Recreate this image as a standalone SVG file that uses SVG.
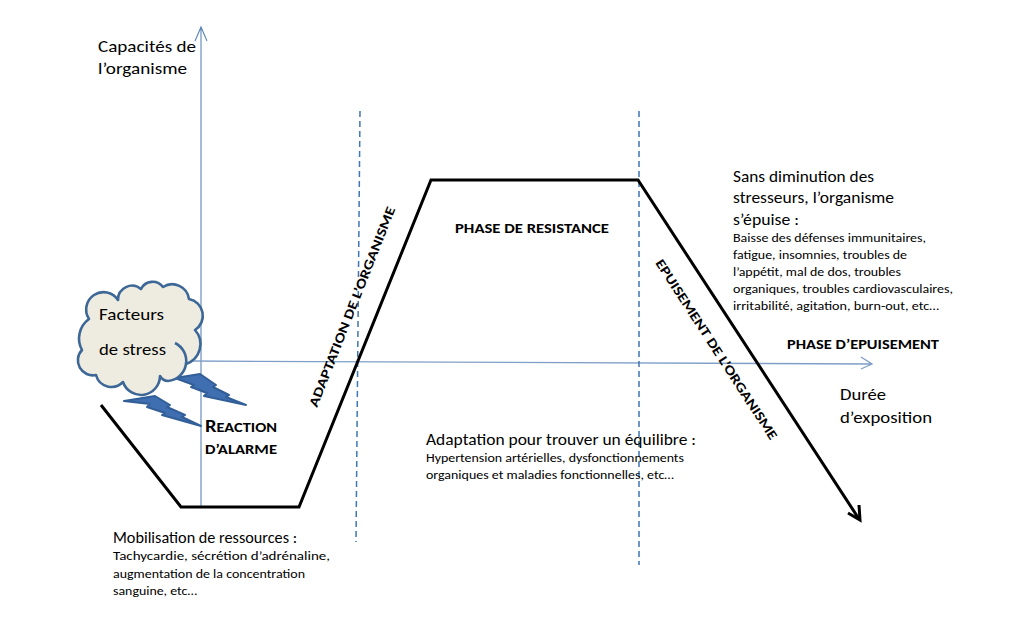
<svg xmlns="http://www.w3.org/2000/svg" width="1013" height="626" viewBox="0 0 1013 626">
<style>
text{font-family:"Carlito","Lato","Liberation Sans",sans-serif;fill:#000}
.l{font-size:17px}
.s{font-size:12.5px}
.b{font-size:13.5px;font-weight:700}
.axis{fill:none;stroke:#5b86b8;stroke-width:1.1}
.axis2{fill:none;stroke:#7f9fc8;stroke-width:1.3}
.dash{fill:none;stroke:#3f76b5;stroke-width:1.5;stroke-dasharray:6 4}
.curve{fill:none;stroke:#000;stroke-width:3}
.bolt{fill:#3f6fb0;stroke:#335f98;stroke-width:2;stroke-linejoin:round}
.cloud{fill:#eeece1;stroke:#3d6796;stroke-width:2.6;stroke-linejoin:round}
.hook{fill:none;stroke:#3d6796;stroke-width:2.6}
</style>
<rect width="1013" height="626" fill="#fff"/>
<g id="connectors">
<path class="axis" d="M201 507V27M195 41L201 27L207 41"/>
<path class="axis2" d="M190 361L872 364M861 357L872 364L861 369"/>
<path class="dash" d="M360 111L356 542"/>
<path class="dash" d="M639 111V565"/>
<path class="curve" d="M101 405L181 507H299L431 180H638L859 519"/>
<path class="curve" d="M848 513L860 520L859 505"/>
</g>
<g id="bolts">
<polygon class="bolt" points="175,378 200,374 216,385 213,387 229,395 226,397 246,405 204,396 207,393 191,387 194,385"/>
<polygon class="bolt" points="124,401 155,396 170,405 167,407 185,415 182,417 201,426 162,415 165,413 147,407 150,404"/>
</g>
<g id="cloud">
<path class="cloud" d="M89 319A15 15 0 0 1 118 300A14 14 0 0 1 141 289A13 13 0 0 1 163 287A17 17 0 0 1 189 299A17 17 0 0 1 195 330A21 21 0 0 1 186 364A20 20 0 0 1 168 381Q163 381 160 376A19 19 0 0 1 123 382A16 16 0 0 1 96 375A15 15 0 0 1 82 350A24 24 0 0 1 89 319Z"/>
<path class="hook" d="M175 343A20 20 0 0 1 186 364"/>
<text class="l" x="99" y="320" textLength="65" lengthAdjust="spacingAndGlyphs">Facteurs</text>
<text class="l" x="99" y="355" textLength="67" lengthAdjust="spacingAndGlyphs">de stress</text>
</g>
<g id="labels">
<text class="l" x="98" y="52" textLength="98" lengthAdjust="spacingAndGlyphs">Capacités de</text>
<text class="l" x="98" y="74" textLength="89" lengthAdjust="spacingAndGlyphs">l’organisme</text>
<text class="b" x="205" y="432" textLength="72" lengthAdjust="spacingAndGlyphs"><tspan font-size="17">R</tspan>EACTION</text>
<text class="b" x="205" y="454" textLength="72" lengthAdjust="spacingAndGlyphs">D’ALARME</text>
<text class="b" transform="translate(317 408) rotate(-68.5)" textLength="214" lengthAdjust="spacingAndGlyphs">ADAPTATION DE L’ORGANISME</text>
<text class="b" x="455" y="233" textLength="154" lengthAdjust="spacingAndGlyphs">PHASE DE RESISTANCE</text>
<text class="b" transform="translate(655 263) rotate(57)" textLength="212" lengthAdjust="spacingAndGlyphs">EPUISEMENT DE L’ORGANISME</text>
<text class="b" x="787" y="349" textLength="152" lengthAdjust="spacingAndGlyphs">PHASE D’EPUISEMENT</text>
<text class="l" x="840" y="400" textLength="46" lengthAdjust="spacingAndGlyphs">Durée</text>
<text class="l" x="840" y="423" textLength="92" lengthAdjust="spacingAndGlyphs">d’exposition</text>
<text class="l" x="733" y="182" textLength="141" lengthAdjust="spacingAndGlyphs">Sans diminution des</text>
<text class="l" x="733" y="203" textLength="161" lengthAdjust="spacingAndGlyphs">stresseurs, l’organisme</text>
<text class="l" x="733" y="225" textLength="66" lengthAdjust="spacingAndGlyphs">s’épuise :</text>
<text class="s" x="733" y="242" textLength="193" lengthAdjust="spacingAndGlyphs">Baisse des défenses immunitaires,</text>
<text class="s" x="733" y="259" textLength="174" lengthAdjust="spacingAndGlyphs">fatigue, insomnies, troubles de</text>
<text class="s" x="733" y="276" textLength="168" lengthAdjust="spacingAndGlyphs">l’appétit, mal de dos, troubles</text>
<text class="s" x="733" y="293" textLength="220" lengthAdjust="spacingAndGlyphs">organiques, troubles cardiovasculaires,</text>
<text class="s" x="733" y="310" textLength="206" lengthAdjust="spacingAndGlyphs">irritabilité, agitation, burn-out,  etc…</text>
<text class="l" x="426" y="445" textLength="270" lengthAdjust="spacingAndGlyphs">Adaptation pour trouver un équilibre :</text>
<text class="s" x="426" y="462" textLength="258" lengthAdjust="spacingAndGlyphs">Hypertension artérielles, dysfonctionnements</text>
<text class="s" x="426" y="479" textLength="248" lengthAdjust="spacingAndGlyphs">organiques et maladies fonctionnelles,  etc…</text>
<text class="l" x="113" y="543" textLength="184" lengthAdjust="spacingAndGlyphs">Mobilisation de ressources :</text>
<text class="s" x="113" y="560" textLength="217" lengthAdjust="spacingAndGlyphs">Tachycardie, sécrétion d’adrénaline,</text>
<text class="s" x="113" y="578" textLength="192" lengthAdjust="spacingAndGlyphs">augmentation de la concentration</text>
<text class="s" x="113" y="595" textLength="84" lengthAdjust="spacingAndGlyphs">sanguine, etc…</text>
</g>
</svg>
